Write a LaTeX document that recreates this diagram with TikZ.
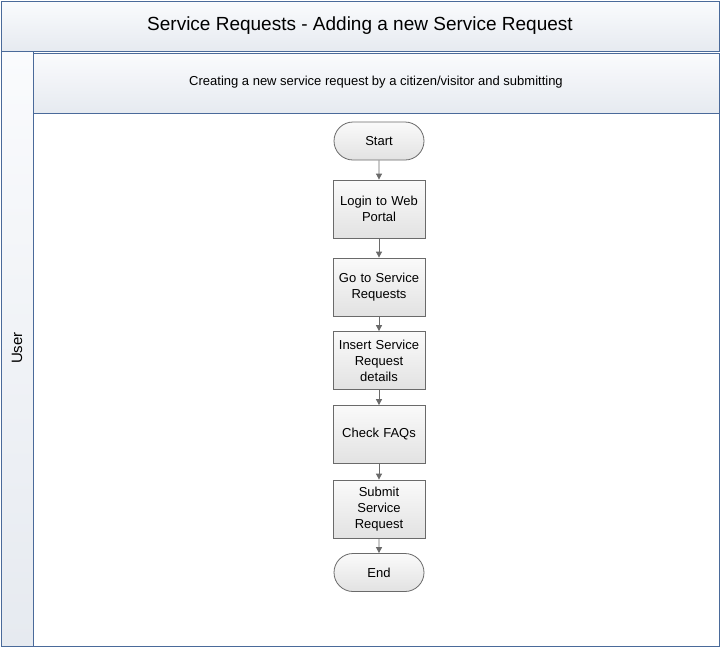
\documentclass[tikz,border=0pt]{standalone}
\usepackage{fontspec}
\setmainfont{Liberation Sans}
\usetikzlibrary{arrows.meta,shapes.misc}
\definecolor{bord}{HTML}{4A6A9A}
\definecolor{hdtop}{HTML}{FAFBFD}
\definecolor{hdbot}{HTML}{E6EAF0}
\definecolor{boxtop}{HTML}{FAFAFA}
\definecolor{boxbot}{HTML}{E2E2E2}
\definecolor{ln}{HTML}{6A6A6A}
\tikzset{
  hdr/.style={draw=bord,line width=0.9pt,top color=hdtop,bottom color=hdbot},
  proc/.style={draw=ln,line width=0.8pt,top color=boxtop,bottom color=boxbot,minimum width=92pt,minimum height=58pt,align=center,text width=88pt,font=\fontsize{13}{16}\selectfont,inner sep=1pt},
  term/.style={proc,rounded rectangle,minimum height=38pt},
  arr/.style={draw=ln,line width=0.8pt,-{Triangle[length=6pt,width=6pt]}}
}
\begin{document}
\begin{tikzpicture}[x=1pt,y=-1pt]
\useasboundingbox (0,0) rectangle (721,649);
\fill[white] (0,0) rectangle (721,649);
\path[hdr] (1,1) rectangle (719,51);
\node[font=\fontsize{19}{22}\selectfont] (title) at (360,26) {Service Requests - Adding a new Service Request};
\path[hdr] (1,51) rectangle (33,646);
\path[draw=bord,line width=0.9pt,fill=white] (33,53) rectangle (719,646);
\path[hdr] (33,53) rectangle (719,113);
\node[font=\fontsize{13}{16}\selectfont] (phase) at (376,82) {Creating a new service request by a citizen/visitor and submitting};
\node[rotate=90,font=\fontsize{15}{18}\selectfont] (lane) at (17,348) {User};
\node[term] (s) at (379,141) {Start};
\node[proc] (a) at (379,209) {Login to Web\\Portal};
\node[proc] (b) at (379,287) {Go to Service\\Requests};
\node[proc] (c) at (379,360.5) {Insert Service\\Request\\details};
\node[proc] (d) at (379,434.5) {Check FAQs};
\node[proc] (e) at (379,509) {Submit Service\\Request};
\node[term] (f) at (379,572.5) {End};
\draw[arr] (s) -- (a);
\draw[arr] (a) -- (b);
\draw[arr] (b) -- (c);
\draw[arr] (c) -- (d);
\draw[arr] (d) -- (e);
\draw[arr] (e) -- (f);
\end{tikzpicture}
\end{document}
